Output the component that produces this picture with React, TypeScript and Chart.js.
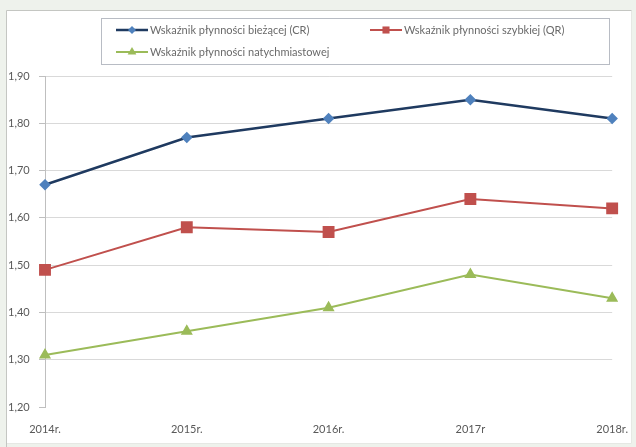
import React, { useEffect, useRef } from "react";
import { Chart, registerables } from "chart.js";

Chart.register(...registerables);

const categories = ["2014r.", "2015r.", "2016r.", "2017r", "2018r."];
const seriesNames = [
  "Wskaźnik płynności bieżącej (CR)",
  "Wskaźnik płynności szybkiej (QR)",
  "Wskaźnik płynności natychmiastowej",
];
const crValues = [1.67, 1.77, 1.81, 1.85, 1.81];
const qrValues = [1.49, 1.58, 1.57, 1.64, 1.62];
const natValues = [1.31, 1.36, 1.41, 1.48, 1.43];
const yMin = 1.2;
const yMax = 1.9;
const yStep = 0.1;

const FONT = "Lato, 'Open Sans', sans-serif";

function marker(ctx: any, style: string, r: number, x: number, y: number, color: string) {
  ctx.fillStyle = color;
  ctx.beginPath();
  if (style === "rectRot") {
    ctx.moveTo(x, y - r);
    ctx.lineTo(x + r, y);
    ctx.lineTo(x, y + r);
    ctx.lineTo(x - r, y);
  } else if (style === "rect") {
    const s = r * Math.SQRT1_2;
    ctx.rect(x - s, y - s, 2 * s, 2 * s);
  } else {
    const h = r * 1.5;
    ctx.moveTo(x, y - r);
    ctx.lineTo(x + h * 0.58, y + r * 0.5);
    ctx.lineTo(x - h * 0.58, y + r * 0.5);
  }
  ctx.closePath();
  ctx.fill();
}

const bgPlugin = {
  id: "bgPlugin",
  beforeDraw(chart: any) {
    const { ctx, width, height } = chart;
    ctx.save();
    ctx.fillStyle = "#eef2ec";
    ctx.fillRect(0, 0, width, height);
    ctx.fillStyle = "#ffffff";
    ctx.fillRect(7, 11, 624, 432);
    ctx.strokeStyle = "#c4c6c2";
    ctx.lineWidth = 1;
    ctx.beginPath();
    ctx.moveTo(6.5, 10.5);
    ctx.lineTo(631.5, 10.5);
    ctx.moveTo(6.5, 10.5);
    ctx.lineTo(6.5, 447);
    ctx.stroke();
    ctx.strokeStyle = "#e6e8e4";
    ctx.beginPath();
    ctx.moveTo(631.5, 11);
    ctx.lineTo(631.5, 443);
    ctx.moveTo(7, 443.5);
    ctx.lineTo(631.5, 443.5);
    ctx.stroke();
    ctx.restore();
  },
};

const legendPlugin = {
  id: "customLegend",
  afterDraw(chart: any) {
    const { ctx } = chart;
    ctx.save();
    ctx.strokeStyle = "#b8bcc4";
    ctx.lineWidth = 1;
    ctx.strokeRect(101.5, 18.5, 508, 46);
    const pos = [
      { x: 116, y: 30 },
      { x: 370, y: 30 },
      { x: 116, y: 52 },
    ];
    chart.data.datasets.forEach((ds: any, i: number) => {
      const p = pos[i];
      ctx.strokeStyle = ds.borderColor;
      ctx.lineWidth = ds.borderWidth;
      ctx.beginPath();
      ctx.moveTo(p.x, p.y);
      ctx.lineTo(p.x + 32, p.y);
      ctx.stroke();
      marker(ctx, ds.pointStyle, Math.min(ds.pointRadius, 5), p.x + 16, p.y, ds.pointBackgroundColor);
      ctx.fillStyle = "#6a6a6a";
      ctx.font = `11px ${FONT}`;
      ctx.textBaseline = "middle";
      ctx.textAlign = "left";
      ctx.fillText(ds.label, p.x + 34, p.y);
    });
    ctx.restore();
  },
};

export default function App() {
  const ref = useRef<HTMLCanvasElement | null>(null);
  useEffect(() => {
    document.body.style.margin = "0";
    const canvas = ref.current!;
    const chart = new Chart(canvas, {
      type: "line",
      data: {
        labels: categories,
        datasets: [
          {
            label: seriesNames[0],
            data: crValues,
            borderColor: "#1f3a60",
            borderWidth: 2.5,
            pointStyle: "rectRot",
            pointRadius: 4,
            pointBackgroundColor: "#4f81bd",
            pointBorderColor: "#4f81bd",
            tension: 0,
          },
          {
            label: seriesNames[1],
            data: qrValues,
            borderColor: "#c0504d",
            borderWidth: 2,
            pointStyle: "rect",
            pointRadius: 7,
            pointBackgroundColor: "#c0504d",
            pointBorderColor: "#c0504d",
            tension: 0,
          },
          {
            label: seriesNames[2],
            data: natValues,
            borderColor: "#9bbb59",
            borderWidth: 2,
            pointStyle: "triangle",
            pointRadius: 5,
            pointBackgroundColor: "#9bbb59",
            pointBorderColor: "#9bbb59",
            tension: 0,
          },
        ],
      },
      options: {
        animation: false,
        responsive: false,
        layout: { padding: { left: 8, right: 17, top: 76, bottom: 0 } },
        plugins: {
          legend: { display: false },
          tooltip: { enabled: false },
        },
        scales: {
          x: {
            offset: false,
            grid: { display: false },
            border: { display: false },
            ticks: {
              color: "#595959",
              font: { size: 11, family: FONT },
              padding: 8,
              maxRotation: 0,
              autoSkip: false,
            },
            afterFit(scale: any) {
              scale.height = 40;
            },
          },
          y: {
            min: yMin,
            max: yMax,
            grid: {
              color: (c: any) =>
                Math.abs(c.tick.value - yMin) < 1e-6 ? "rgba(0,0,0,0)" : "#d9d9d9",
              tickColor: "#bfbfbf",
              tickLength: 6,
            },
            border: { display: true, color: "#bfbfbf" },
            ticks: {
              stepSize: yStep,
              color: "#595959",
              font: { size: 11, family: FONT },
              crossAlign: "far",
              callback: (v: any) => Number(v).toFixed(2).replace(".", ","),
            },
            afterFit(scale: any) {
              scale.width = 37;
            },
          },
        },
      },
      plugins: [bgPlugin, legendPlugin],
    });
    return () => chart.destroy();
  }, []);
  return <canvas ref={ref} width={636} height={447} style={{ display: "block" }} />;
}
